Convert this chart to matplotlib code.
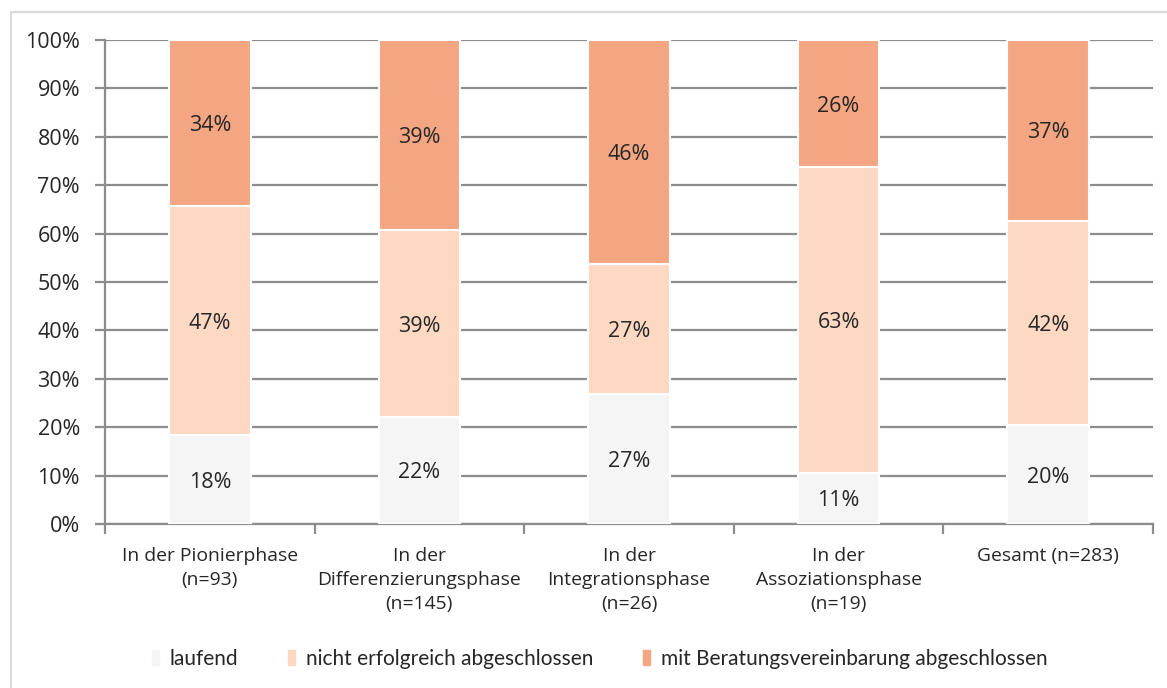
import numpy as np
import matplotlib
matplotlib.use('Agg')
import matplotlib.pyplot as plt
from matplotlib.ticker import FixedLocator, PercentFormatter
from matplotlib.lines import Line2D

categories = ['In der Pionierphase\n(n=93)',
              'In der\nDifferenzierungsphase\n(n=145)',
              'In der\nIntegrationsphase\n(n=26)',
              'In der\nAssoziationsphase\n(n=19)',
              'Gesamt (n=283)']

# shares in percent, bottom to top
laufend = [18.3, 22.1, 26.9, 10.6, 20.4]
nicht_erfolgreich = [47.3, 38.6, 26.9, 63.1, 42.2]
mit_vereinbarung = [34.4, 39.3, 46.2, 26.3, 37.4]

series_names = ['laufend', 'nicht erfolgreich abgeschlossen',
                'mit Beratungsvereinbarung abgeschlossen']
colors = ['#f5f5f5', '#fdd9c4', '#f4a683']

plt.rcParams['font.family'] = ['Open Sans', 'DejaVu Sans']
text_color = '#262626'
axis_color = '#8c8c8c'

fig = plt.figure(figsize=(11.67, 6.88), dpi=100)
ax = fig.add_axes([0.09, 0.2384, 0.898, 0.7035])

x = np.arange(len(categories))
bottom = np.zeros(len(categories))
for values, color in zip([laufend, nicht_erfolgreich, mit_vereinbarung], colors):
    values = np.array(values)
    ax.bar(x, values, 0.39, bottom=bottom, color=color,
           edgecolor='white', linewidth=1.5, zorder=3)
    for xi, b, v in zip(x, bottom, values):
        ax.text(xi, b + v / 2, f'{v:.0f}%', ha='center', va='center_baseline',
                fontsize=15.5, color=text_color, zorder=4)
    bottom += values

ax.set_xlim(-0.5, 4.5)
ax.set_ylim(0, 100)
ax.set_yticks(np.arange(0, 101, 10))
ax.yaxis.set_major_formatter(PercentFormatter(decimals=0))
ax.grid(axis='y', color=axis_color, linewidth=1.6, zorder=0)

ax.set_xticks(x)
ax.set_xticklabels(categories, fontsize=13.9, color=text_color, linespacing=1.45)
ax.xaxis.set_minor_locator(FixedLocator(np.arange(-0.5, 5, 1)))
ax.tick_params(axis='x', which='major', length=0, pad=16.5)
ax.tick_params(axis='x', which='minor', length=7, width=1.6, color=axis_color)
ax.tick_params(axis='y', length=7, width=1.6, color=axis_color,
               labelsize=15.5, labelcolor=text_color, pad=11)

for side in ['top', 'right']:
    ax.spines[side].set_visible(False)
for side in ['left', 'bottom']:
    ax.spines[side].set_color(axis_color)
    ax.spines[side].set_linewidth(1.6)

handles = [plt.Rectangle((0, 0), 1, 1, color=c) for c in colors]
fig.legend(handles, series_names, loc='center', bbox_to_anchor=(0.514, 0.042),
           ncol=3, frameon=False, handlelength=0.34,
           handleheight=0.75, handletextpad=0.5, columnspacing=2.4,
           labelcolor=text_color, prop={'family': ['Lato', 'DejaVu Sans'], 'size': 15})

# thin frame around the chart area
fig.add_artist(Line2D([0.009, 0.009, 1.0], [0.0, 0.983, 0.983],
                      transform=fig.transFigure, color='#d9d9d9', linewidth=1.5))

fig.savefig('out.png', dpi=100)
